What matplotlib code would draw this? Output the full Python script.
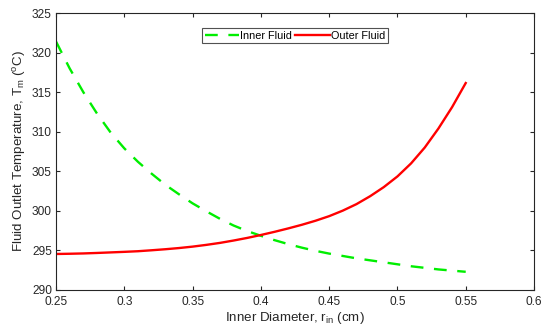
import matplotlib
matplotlib.use("Agg")
import matplotlib.pyplot as plt

plt.rcParams['font.family'] = ['Liberation Sans', 'DejaVu Sans']
plt.rcParams['mathtext.fontset'] = 'custom'
plt.rcParams['mathtext.rm'] = 'Liberation Sans'
plt.rcParams['mathtext.it'] = 'Liberation Sans:italic'

r_in = [0.25, 0.26, 0.27, 0.28, 0.29, 0.30, 0.31, 0.32, 0.33, 0.34, 0.35, 0.36, 0.37, 0.38, 0.39, 0.40,
        0.41, 0.42, 0.43, 0.44, 0.45, 0.46, 0.47, 0.48, 0.49, 0.50, 0.51, 0.52, 0.53, 0.54, 0.55]
inner_fluid = [321.4, 318.0, 315.0, 312.3, 309.9, 307.9, 306.2, 304.7, 303.3, 302.1, 300.95, 299.95,
               299.0, 298.15, 297.45, 296.85, 296.3, 295.8, 295.35, 294.95, 294.6, 294.3, 294.0,
               293.75, 293.5, 293.25, 293.0, 292.8, 292.6, 292.45, 292.3]
outer_fluid = [294.55, 294.58, 294.62, 294.68, 294.75, 294.82, 294.9, 295.02, 295.15, 295.3, 295.48,
               295.7, 295.95, 296.25, 296.58, 296.95, 297.35, 297.78, 298.24, 298.75, 299.33, 300.03,
               300.85, 301.85, 303.0, 304.35, 306.0, 308.0, 310.4, 313.1, 316.15]

xticks = [0.25, 0.3, 0.35, 0.4, 0.45, 0.5, 0.55, 0.6]
yticks = [290, 295, 300, 305, 310, 315, 320, 325]

W, H = 543, 333
fig = plt.figure(figsize=(W / 100, H / 100), dpi=100)
ax = fig.add_axes([56 / W, 1 - 290 / H, (534 - 56) / W, (290 - 13) / H])

ax.plot(r_in, inner_fluid, color='#00ee00', lw=1.7, dashes=(5.4, 4.5), label='Inner Fluid')
ax.plot(r_in, outer_fluid, color='#ff0000', lw=1.7, label='Outer Fluid')

ax.set_xlim(0.25, 0.6)
ax.set_ylim(290, 325)
ax.set_xticks(xticks)
ax.set_xticklabels([f"{t:g}" for t in xticks])
ax.set_yticks(yticks)
ax.tick_params(direction='in', top=True, right=True, length=3, width=0.8,
               labelsize=8.6, colors='#262626')
ax.tick_params(axis='x', pad=4.5)
ax.tick_params(axis='y', pad=3)
for s in ax.spines.values():
    s.set_color('#262626')
    s.set_linewidth(0.8)

ax.set_xlabel(r'Inner Diameter, r$_{\rm in}$ (cm)', fontsize=9.6, color='#262626', labelpad=1)
ax.set_ylabel(r'Fluid Outlet Temperature, T$_{\rm m}$ ($^{\rm o}$C)', fontsize=9.6,
              color='#262626', labelpad=3)

leg = ax.legend(loc='upper center', ncol=2, fontsize=7.8, frameon=True, fancybox=False,
                edgecolor='#262626', handlelength=3.2, handletextpad=0.1, columnspacing=0.3,
                borderpad=0.25, borderaxespad=0, bbox_to_anchor=(0.5, 1 - 15 / 277))
leg.get_frame().set_linewidth(0.8)

fig.savefig('out.png', dpi=100)
